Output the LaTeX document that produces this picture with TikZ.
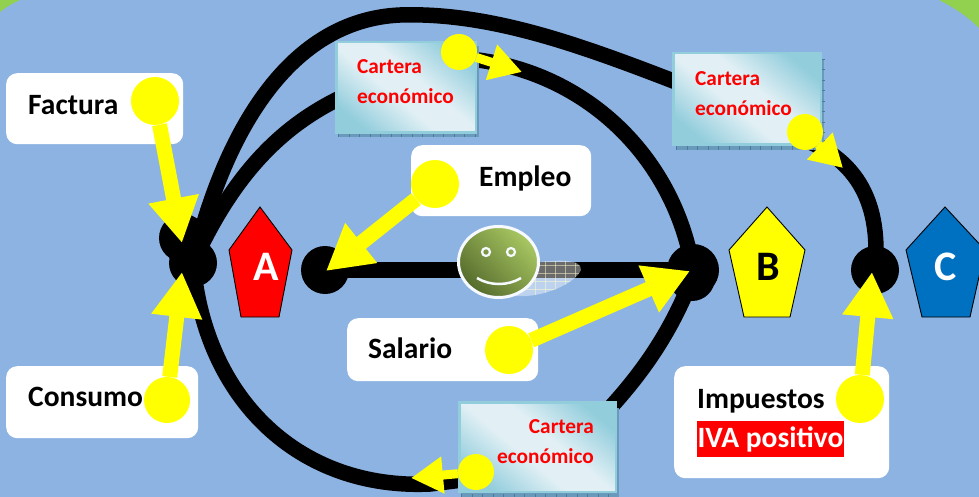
\documentclass[tikz,border=0pt]{standalone}
\usepackage{fontspec}
\setmainfont{Carlito}
\usetikzlibrary{arrows.meta,calc,shapes.geometric}
\definecolor{bgblue}{HTML}{8DB3E2}
\definecolor{cornergreen}{HTML}{92D050}
\definecolor{tealdark}{HTML}{92CDDC}
\definecolor{teallight}{HTML}{E2F0F5}
\definecolor{shadowblue}{HTML}{6A9ABB}
\definecolor{shadowtick}{HTML}{4C7A9A}
\definecolor{yel}{HTML}{FFFF00}
\definecolor{smilelight}{HTML}{A9C862}
\definecolor{smiledark}{HTML}{556B2C}
\definecolor{pentblue}{HTML}{0070C0}
\pgfdeclareverticalshading{carterashade}{100bp}{color(0bp)=(tealdark); color(24bp)=(tealdark); color(44bp)=(teallight); color(56bp)=(teallight); color(76bp)=(tealdark); color(100bp)=(tealdark)}
\tikzset{
  x=1pt,y=-1pt,
  lbl/.style={fill=white,rounded corners=11pt,inner sep=0pt,anchor=north west},
  labeltext/.style={font=\bfseries\fontsize{29.5}{34}\selectfont,anchor=west,inner sep=0pt},
  curve/.style={line width=15.5pt,black},
  dot/.style={circle,fill=black,inner sep=0pt,minimum size=#1},
  knob/.style={circle,fill=yel,inner sep=0pt,minimum size=#1},
  lever/.style={draw=yel,line width=15pt,-{Triangle[length=45pt,width=48pt,fill=yel]}},
  leversmall/.style={draw=yel,line width=9pt,-{Triangle[length=32pt,width=35pt,fill=yel]}},
  cartera/.style={draw=tealdark,line width=2.5pt,shading=carterashade,shading angle=-40,inner sep=0pt,anchor=north west},
  carteratext/.style={text=red,font=\bfseries\fontsize{21.3}{30}\selectfont,align=left,inner sep=0pt},
  cartshadow/.style={fill=shadowblue},
  carttick/.style={draw=shadowtick,line width=4pt,dash pattern=on 1pt off 9.5pt},
  penta/.style={draw=black,line width=0.9pt},
  letter/.style={font=\bfseries\fontsize{42}{44}\selectfont,inner sep=0pt},
  face/.style={draw=white!92!bgblue},
}
\begin{document}
\begin{tikzpicture}
\useasboundingbox (0,0) rectangle (979,497);
\fill[bgblue] (0,0) rectangle (979,497);
% corners
\fill[cornergreen] (939,0) .. controls (955,8) and (968,17) .. (979,28) -- (979,0) -- cycle;
\fill[cornergreen] (0,12) .. controls (6,7) and (13,3) .. (20,0) -- (0,0) -- cycle;
% label boxes
\node[lbl,minimum width=177pt,minimum height=71pt] (facturabox) at (6,73) {};
\node[lbl,minimum width=192pt,minimum height=72pt] (consumobox) at (6,366) {};
\node[lbl,minimum width=180pt,minimum height=71pt] (empleobox) at (411,145) {};
\node[lbl,minimum width=191pt,minimum height=63pt] (salariobox) at (347,318) {};
\node[lbl,minimum width=215pt,minimum height=112pt] (impuestosbox) at (674,366) {};
% dots
\node[dot=48pt] (d1) at (183,238) {};
\node[dot=48pt] (d2) at (193,263) {};
\node[dot=48pt] (d3) at (325,270) {};
\node[dot=52pt] (d4) at (693,270) {};
\node[dot=46pt] (d4b) at (692,278) {};
\node[dot=48pt] (d5) at (875,270) {};
% curve end points
\coordinate (c1w) at (340,98);
\coordinate (c1e) at (478,60);
\coordinate (c2w) at (676,82);
\coordinate (c2e) at (805,140);
\coordinate (c3w) at (462,480);
\coordinate (c3e) at (610,408);
% curves
\draw[curve] (d2.center) .. controls (225,130) and (290,20) .. (400,15)
  .. controls (490,12) and (580,45) .. (c2w);
\draw[curve] (c2e) .. controls (850,158) and (882,195) .. (d5.center);
\draw[curve] (d2.center) .. controls (235,170) and (285,125) .. (c1w);
\draw[curve] (c1e) .. controls (590,75) and (675,160) .. (d4.center);
\draw[curve] (d2.center) .. controls (205,400) and (300,490) .. (430,484) -- (c3w);
\draw[curve] (c3e) .. controls (640,375) and (670,335) .. (d4b.center);
\draw[curve] (d3.center) -- (d4.center);
% smiley shadow
\begin{scope}
\clip (530,263) .. controls (555,260) and (582,258) .. (581,270) .. controls (575,283) and (545,298) .. (515,296) -- cycle;
\fill[white,opacity=.42] (510,250) rectangle (590,300);
\foreach \xx in {535,545,...,585} \draw[white!80!yellow,line width=.6pt,opacity=.5] (\xx,250) -- (\xx,300);
\foreach \yy in {265,273,281,289} \draw[white!80!yellow,line width=.6pt,opacity=.5] (510,\yy) -- (590,\yy);
\end{scope}
% smiley
\node[ellipse,face,line width=3pt,minimum width=80pt,minimum height=71pt,inner sep=0pt,shading=axis,top color=smilelight,bottom color=smiledark,shading angle=-45] (smiley) at (498.5,262) {};
\draw[face,line width=2.2pt] (486,252) circle (4);
\draw[face,line width=2.2pt] (511,252) circle (4);
\draw[face,line width=2.5pt] (477,278) .. controls (490,286) and (508,286) .. (521,278);
% pentagons
\draw[penta,fill=red] (260,207) -- (292,250) -- (279,317) -- (241,317) -- (229,250) -- cycle;
\draw[penta,fill=yel] (767,207) -- (805,250) -- (790,317) -- (744,317) -- (729,250) -- cycle;
\draw[penta,fill=pentblue] (945,207) -- (985,250) -- (970,317) -- (922,317) -- (906,250) -- cycle;
\node[letter,text=white] (la) at (266,267) {A};
\node[letter] (lb) at (768,267) {B};
\node[letter,text=white] (lc) at (946,267) {C};
% carteras
\fill[cartshadow] (338,46) rectangle (478.5,137);
\draw[carttick] (338,135) -- (478.5,135);
\node[cartera,minimum width=139.5pt,minimum height=90.5pt] (c1) at (335,41) {};
\node[carteratext,anchor=north west] at (357,59) {Cartera\\económico};
\fill[cartshadow] (676,59) rectangle (824,150);
\draw[carttick] (676,148) -- (824,148);
\draw[carttick] (823,59) -- (823,150);
\node[cartera,minimum width=147.5pt,minimum height=91.5pt] (c2) at (672,52) {};
\node[carteratext,anchor=north west] at (695,71) {Cartera\\económico};
\fill[cartshadow] (461,408) rectangle (618.5,497);
\draw[carttick] (461,495.5) -- (618.5,495.5);
\node[cartera,minimum width=156.5pt,minimum height=89.5pt] (c3) at (458,401) {};
\node[carteratext,anchor=north east,align=right] at (594,419) {Cartera\\económico};
% texts
\node[labeltext] (tf) at (28,105) {Factura};
\node[labeltext] (tc) at (28,397) {Consumo};
\node[labeltext] (te) at (479,178) {Empleo};
\node[labeltext] (ts) at (368,348) {Salario};
\node[labeltext] (ti) at (697,401) {Impuestos};
\node[fill=red,text=white,font=\bfseries\fontsize{29.5}{34}\selectfont,inner sep=0pt,minimum width=147pt,minimum height=36pt] (iva) at (770.5,439) {IVA positivo};
% levers
\coordinate (t1) at (182,243);
\coordinate (t2) at (182,272);
\coordinate (t3) at (326,271);
\coordinate (t4) at (690,271);
\coordinate (t5) at (872,272);
\coordinate (t6) at (522,72);
\coordinate (t7) at (843,168);
\coordinate (t8) at (411,478);
\node[knob=48pt] (k1) at (155,101) {};
\node[knob=46pt] (k2) at (167,400) {};
\node[knob=48pt] (k3) at (435,184) {};
\node[knob=48pt] (k4) at (509,350) {};
\node[knob=48pt] (k5) at (860,399) {};
\node[knob=36pt] (k6) at (459,52) {};
\node[knob=36pt] (k7) at (805,132) {};
\node[knob=36pt] (k8) at (476,472) {};
\draw[lever] (k1) -- (t1);
\draw[lever] (k2) -- (t2);
\draw[lever] (k3) -- (t3);
\draw[lever] (k4) -- (t4);
\draw[lever] (k5) -- (t5);
\draw[leversmall] (k6) -- (t6);
\draw[leversmall] (k7) -- (t7);
\draw[leversmall] (k8) -- (t8);
\end{tikzpicture}
\end{document}
